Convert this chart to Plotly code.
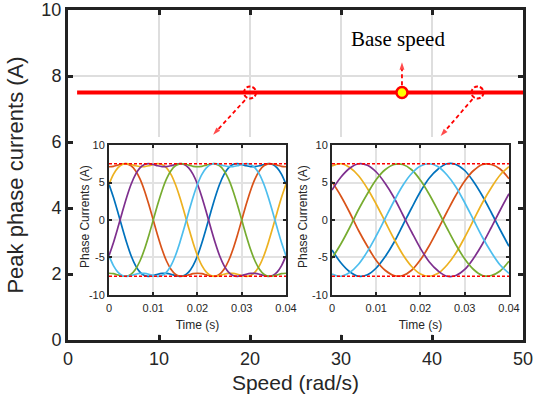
import plotly.graph_objects as go

# ---- main curve: peak phase current vs. speed ----
speed = [1, 50]
peak_current = [7.5, 7.5]
base_speed = 36.7
inset_speeds = [20, 45]
current_limit = 7.5

# ---- inset at 20 rad/s (flat-topped currents), sampled every 1 ms ----
t_20 = [0.000, 0.001, 0.002, 0.003, 0.004, 0.005, 0.006, 0.007, 0.008, 0.009,
        0.010, 0.011, 0.012, 0.013, 0.014, 0.015, 0.016, 0.017, 0.018, 0.019,
        0.020, 0.021, 0.022, 0.023, 0.024, 0.025, 0.026, 0.027, 0.028, 0.029,
        0.030, 0.031, 0.032, 0.033, 0.034, 0.035, 0.036, 0.037, 0.038, 0.039,
        0.040]
ia_20 = [4.76, 3.03, 1.04, -1.04, -3.03, -4.76, -6.08, -6.95, -7.40, -7.51,
         -7.40, -7.23, -7.12, -7.12, -7.23, -7.40, -7.51, -7.40, -6.95, -6.08,
         -4.76, -3.03, -1.04, 1.04, 3.03, 4.76, 6.08, 6.95, 7.40, 7.51,
         7.40, 7.23, 7.12, 7.12, 7.23, 7.40, 7.51, 7.40, 6.95, 6.08, 4.76]
ib_20 = [7.10, 7.16, 7.32, 7.47, 7.49, 7.23, 6.57, 5.47, 3.94, 2.06,
         0.00, -2.06, -3.94, -5.47, -6.57, -7.23, -7.49, -7.47, -7.32, -7.16,
         -7.10, -7.16, -7.32, -7.47, -7.49, -7.23, -6.57, -5.47, -3.94, -2.06,
         0.00, 2.06, 3.94, 5.47, 6.57, 7.23, 7.49, 7.47, 7.32, 7.16, 7.10]
ic_20 = [4.76, 6.08, 6.95, 7.40, 7.51, 7.40, 7.23, 7.12, 7.12, 7.23,
         7.40, 7.51, 7.40, 6.95, 6.08, 4.76, 3.03, 1.04, -1.04, -3.03,
         -4.76, -6.08, -6.95, -7.40, -7.51, -7.40, -7.23, -7.12, -7.12, -7.23,
         -7.40, -7.51, -7.40, -6.95, -6.08, -4.76, -3.03, -1.04, 1.04, 3.03, 4.76]
id_20 = [-4.76, -3.03, -1.04, 1.04, 3.03, 4.76, 6.08, 6.95, 7.40, 7.51,
         7.40, 7.23, 7.12, 7.12, 7.23, 7.40, 7.51, 7.40, 6.95, 6.08,
         4.76, 3.03, 1.04, -1.04, -3.03, -4.76, -6.08, -6.95, -7.40, -7.51,
         -7.40, -7.23, -7.12, -7.12, -7.23, -7.40, -7.51, -7.40, -6.95, -6.08, -4.76]
ie_20 = [-7.10, -7.16, -7.32, -7.47, -7.49, -7.23, -6.57, -5.47, -3.94, -2.06,
         0.00, 2.06, 3.94, 5.47, 6.57, 7.23, 7.49, 7.47, 7.32, 7.16,
         7.10, 7.16, 7.32, 7.47, 7.49, 7.23, 6.57, 5.47, 3.94, 2.06,
         0.00, -2.06, -3.94, -5.47, -6.57, -7.23, -7.49, -7.47, -7.32, -7.16, -7.10]
if_20 = [-4.76, -6.08, -6.95, -7.40, -7.51, -7.40, -7.23, -7.12, -7.12, -7.23,
         -7.40, -7.51, -7.40, -6.95, -6.08, -4.76, -3.03, -1.04, 1.04, 3.03,
         4.76, 6.08, 6.95, 7.40, 7.51, 7.40, 7.23, 7.12, 7.12, 7.23,
         7.40, 7.51, 7.40, 6.95, 6.08, 4.76, 3.03, 1.04, -1.04, -3.03, -4.76]

# ---- inset at 45 rad/s (sinusoidal currents), sampled every 2 ms ----
t_45 = [0.000, 0.002, 0.004, 0.006, 0.008, 0.010, 0.012, 0.014, 0.016, 0.018,
        0.020, 0.022, 0.024, 0.026, 0.028, 0.030, 0.032, 0.034, 0.036, 0.038,
        0.040]
ia_45 = [-4.0, -5.7, -6.9, -7.5, -7.3, -6.4, -4.9, -3.0, -0.7, 1.6,
         3.8, 5.6, 6.8, 7.5, 7.4, 6.6, 5.1, 3.2, 1.0, -1.3, -3.5]
ib_45 = [5.1, 3.2, 1.0, -1.4, -3.5, -5.4, -6.7, -7.4, -7.4, -6.7,
         -5.3, -3.4, -1.2, 1.1, 3.3, 5.2, 6.6, 7.4, 7.4, 6.8, 5.5]
ic_45 = [7.2, 7.5, 7.0, 5.9, 4.2, 2.1, -0.2, -2.5, -4.6, -6.2,
         -7.2, -7.5, -7.1, -6.0, -4.4, -2.3, 0.0, 2.3, 4.3, 6.0, 7.1]
id_45 = [4.0, 5.7, 6.9, 7.5, 7.3, 6.4, 4.9, 3.0, 0.7, -1.6,
         -3.8, -5.6, -6.8, -7.5, -7.4, -6.6, -5.1, -3.2, -1.0, 1.3, 3.5]
ie_45 = [-5.1, -3.2, -1.0, 1.4, 3.5, 5.4, 6.7, 7.4, 7.4, 6.7,
         5.3, 3.4, 1.2, -1.1, -3.3, -5.2, -6.6, -7.4, -7.4, -6.8, -5.5]
if_45 = [-7.2, -7.5, -7.0, -5.9, -4.2, -2.1, 0.2, 2.5, 4.6, 6.2,
         7.2, 7.5, 7.1, 6.0, 4.4, 2.3, 0.0, -2.3, -4.3, -6.0, -7.1]

phase_colors = ["#0072BD", "#D95319", "#EDB120", "#7E2F8E", "#77AC30", "#4DBEEE"]

# dashed pointer arrows (tail -> head), in speed / current units
arrows = [
    ([19.45, 15.95], [7.27, 6.22]),
    ([44.45, 40.95], [7.30, 6.18]),
    ([36.7, 36.7], [7.72, 8.42]),
]

# white backing panel behind the two insets (speed / current units)
panel_x = [0.15, 49.85, 49.85, 0.15, 0.15]
panel_y = [0.18, 0.18, 6.15, 6.15, 0.18]

SANS = "Liberation Sans, Arial, Helvetica, sans-serif"
SERIF = "Liberation Serif, Times New Roman, serif"
TXT = "#262626"

fig = go.Figure()

# panel hiding the main grid where the insets sit
fig.add_trace(go.Scatter(x=panel_x, y=panel_y, mode="lines", fill="toself",
                         fillcolor="white", line=dict(width=0, color="white"),
                         xaxis="x", yaxis="y", hoverinfo="skip"))

# main peak-current line
fig.add_trace(go.Scatter(x=speed, y=peak_current, mode="lines",
                         line=dict(color="#FF0000", width=4),
                         xaxis="x", yaxis="y", hoverinfo="skip"))

# arrows
for ax_, ay_ in arrows:
    fig.add_trace(go.Scatter(x=ax_, y=ay_, mode="lines+markers",
                             line=dict(color="#FF0000", width=1.8, dash="4px,3px"),
                             marker=dict(symbol="arrow", size=[0, 8], angleref="previous",
                                         color="#FF0000", line=dict(width=0)),
                             xaxis="x", yaxis="y", hoverinfo="skip"))

# base-speed marker
fig.add_trace(go.Scatter(x=[base_speed], y=[peak_current[0]], mode="markers",
                         marker=dict(symbol="circle", size=11, color="#FFFF00",
                                     line=dict(color="#FF0000", width=2.5)),
                         xaxis="x", yaxis="y", hoverinfo="skip"))

# inset waveforms
for series, color in zip([ia_20, ib_20, ic_20, id_20, ie_20, if_20], phase_colors):
    fig.add_trace(go.Scatter(x=t_20, y=series, mode="lines",
                             line=dict(color=color, width=1.7, shape="spline", smoothing=0.8),
                             xaxis="x2", yaxis="y2", hoverinfo="skip"))
for series, color in zip([ia_45, ib_45, ic_45, id_45, ie_45, if_45], phase_colors):
    fig.add_trace(go.Scatter(x=t_45, y=series, mode="lines",
                             line=dict(color=color, width=1.7, shape="spline", smoothing=1.0),
                             xaxis="x3", yaxis="y3", hoverinfo="skip"))

# current limit lines in the insets
for xa, ya, tt in (("x2", "y2", t_20), ("x3", "y3", t_45)):
    for s in (1, -1):
        fig.add_trace(go.Scatter(x=[tt[0], tt[-1]], y=[s * current_limit] * 2, mode="lines",
                                 line=dict(color="#FF0000", width=1.5, dash="3px,2px"),
                                 xaxis=xa, yaxis=ya, hoverinfo="skip"))

# dashed rings marking the operating points shown in the insets
shapes = []
for sp in inset_speeds:
    shapes.append(dict(type="circle", xref="x", yref="y", xsizemode="pixel", ysizemode="pixel",
                       xanchor=sp, yanchor=peak_current[0], x0=-6, x1=6, y0=-6, y1=6,
                       line=dict(color="#FF0000", width=2, dash="4px,2px")))

main_axis = dict(showline=True, linecolor="#222222", linewidth=3, mirror="allticks",
                 ticks="inside", ticklen=5, tickwidth=3, tickcolor="#222222",
                 showgrid=True, gridcolor="#dedede", gridwidth=2, zeroline=False,
                 automargin=False,
                 tickfont=dict(family=SANS, size=18, color=TXT))
inset_x = dict(range=[0, 0.04], tickvals=[0, 0.01, 0.02, 0.03, 0.04],
               ticktext=["0", "0.01", "0.02", "0.03", "0.04"],
               showline=True, linecolor="#262626", linewidth=2, mirror="allticks",
               ticks="inside", ticklen=3, tickwidth=2, tickcolor="#262626",
               showgrid=True, gridcolor="#e2e2e2", gridwidth=1.5, zeroline=False,
               ticklabelstandoff=2, automargin=False,
               tickfont=dict(family=SANS, size=11, color=TXT),
               title=dict(text="Time (s)", font=dict(family=SANS, size=12, color=TXT), standoff=7))
inset_y = dict(range=[-10, 10], tickvals=[-10, -5, 0, 5, 10],
               ticktext=["-10", "-5", "0", "5", "10"],
               showline=True, linecolor="#262626", linewidth=2, mirror="allticks",
               ticks="inside", ticklen=3, tickwidth=2, tickcolor="#262626",
               showgrid=True, gridcolor="#e2e2e2", gridwidth=1.5, zeroline=False,
               automargin=False,
               tickfont=dict(family=SANS, size=11, color=TXT))

# rotated inset y-axis titles, placed beside each inset's tick labels
inset_ytitles = [
    dict(x=0.0374, y=0.373, xref="paper", yref="paper", text="Phase Currents (A)",
         xanchor="center", yanchor="middle",
         textangle=-90, showarrow=False, font=dict(family=SANS, size=12, color=TXT)),
    dict(x=0.5165, y=0.373, xref="paper", yref="paper", text="Phase Currents (A)",
         xanchor="center", yanchor="middle",
         textangle=-90, showarrow=False, font=dict(family=SANS, size=12, color=TXT)),
]

fig.update_layout(
    width=544, height=396,
    margin=dict(l=68, r=21, t=10, b=56),
    paper_bgcolor="white", plot_bgcolor="white",
    showlegend=False,
    xaxis=dict(main_axis, range=[0, 50], tickvals=[0, 10, 20, 30, 40, 50], domain=[0, 1],
               title=dict(text="Speed (rad/s)", font=dict(family=SANS, size=21, color=TXT), standoff=8)),
    yaxis=dict(main_axis, range=[0, 10], tickvals=[0, 2, 4, 6, 8, 10], domain=[0, 1],
               title=dict(text="Peak phase currents (A)", font=dict(family=SANS, size=22, color=TXT), standoff=12)),
    xaxis2=dict(inset_x, domain=[0.0901, 0.4791], anchor="y2"),
    yaxis2=dict(inset_y, domain=[0.1364, 0.5909], anchor="x2"),
    xaxis3=dict(inset_x, domain=[0.5802, 0.9692], anchor="y3"),
    yaxis3=dict(inset_y, domain=[0.1364, 0.5909], anchor="x3"),
    shapes=shapes,
    annotations=[dict(x=36.3, y=9.12, xref="x", yref="y", text="Base speed", showarrow=False,
                      font=dict(family=SERIF, size=21, color="black"))] + inset_ytitles,
)

fig.write_html("out.html")
